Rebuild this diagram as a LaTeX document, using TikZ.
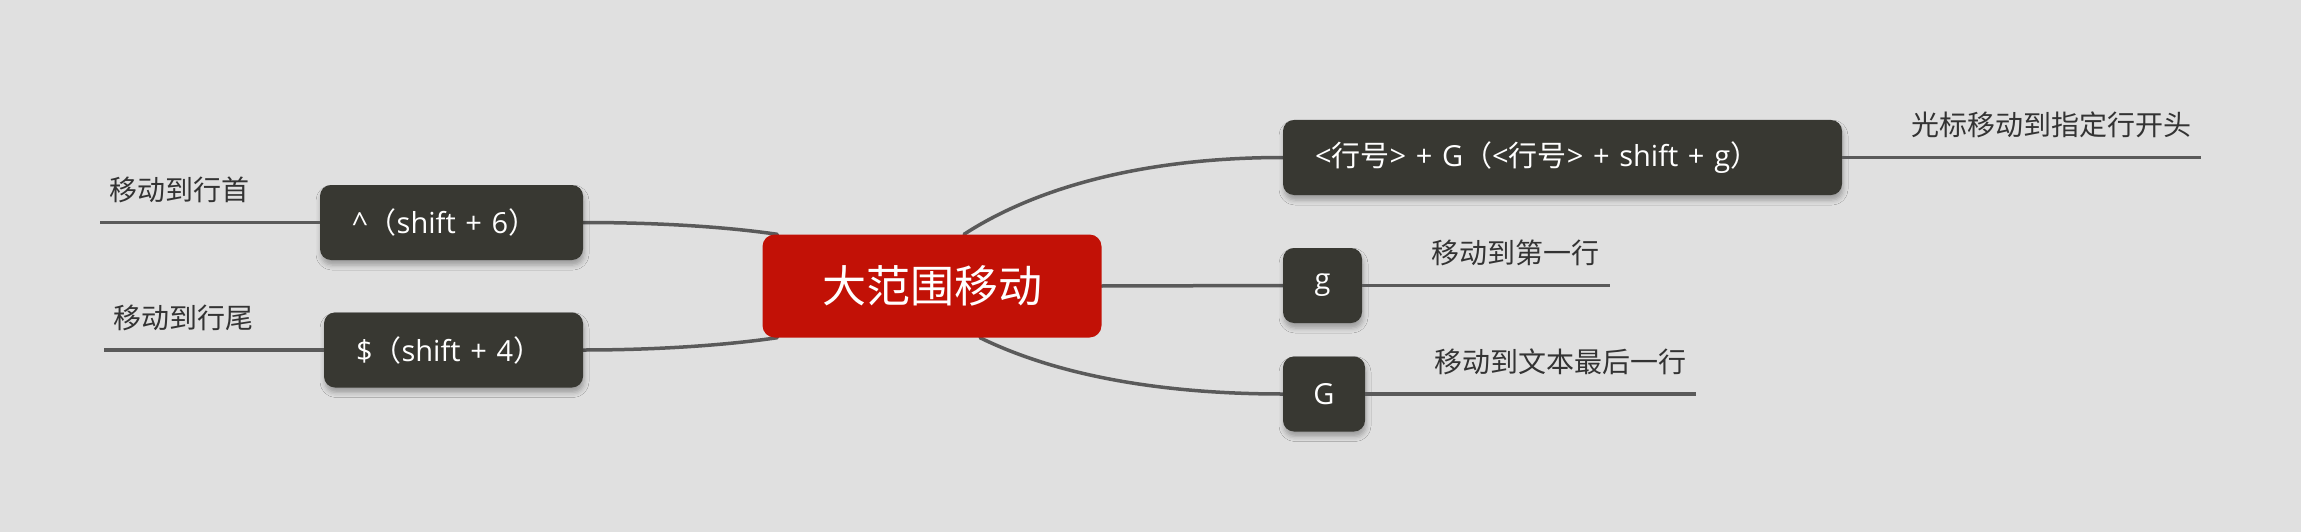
\documentclass[tikz,border=0pt]{standalone}
\usepackage{fontspec}
\setmainfont{Open Sans}
\newfontfamily\cjk{Noto Sans CJK SC}
\usetikzlibrary{shadows.blur,backgrounds,calc}
\definecolor{bg}{HTML}{E0E0E0}
\definecolor{dark}{HTML}{383832}
\definecolor{mainred}{HTML}{C21106}
\definecolor{linec}{HTML}{5A5A5A}
\definecolor{labc}{HTML}{333333}
\begin{document}
\begin{tikzpicture}[x=1pt,y=-1pt,
  centerbox/.style={rectangle, rounded corners=12pt, fill=mainred, text=white,
    minimum width=339pt, minimum height=103pt, inner sep=0pt,
    font=\cjk\fontsize{44}{50}\selectfont},
  keybox/.style={rectangle, rounded corners=11pt, fill=dark, text=white,
    minimum height=75pt, inner sep=0pt,
    font=\fontsize{29}{32}\selectfont,
    blur shadow={shadow xshift=1pt, shadow yshift=-5pt, shadow blur radius=5pt, shadow opacity=30}},
  widekey/.style={keybox, inner xsep=32pt, align=left, text width=#1},
  desc/.style={text=labc, inner sep=0pt, font=\cjk\fontsize{28}{32}\selectfont},
  conn/.style={draw=linec, line width=3.5pt, line cap=round},
  uline/.style={draw=linec, line width=3.5pt}
]
\useasboundingbox (0,0) rectangle (2301,532);

\node[centerbox] (c) at (932,286) {大范围移动};

\node[widekey=495pt] (k1) at (1562.5,157.5) {<{\cjk 行号}> + G{\cjk （}<{\cjk 行号}> + shift + g{\cjk ）}};
\node[keybox, minimum width=79pt] (k2) at (1322.5,285.5) {g};
\node[keybox, minimum width=82pt] (k3) at (1324,394) {G};
\node[widekey=199pt] (k4) at (451.5,222.5) {\^{}{\cjk （}shift + 6{\cjk ）}};
\node[widekey=195pt] (k5) at (453.5,350) {\${\cjk （}shift + 4{\cjk ）}};

\coordinate (e1) at (2201,157.5);
\coordinate (e2) at (1610,285.5);
\coordinate (e3) at (1696,394);
\coordinate (e4) at (100,222.5);
\coordinate (e5) at (104,350);

\begin{scope}[on background layer]
  \fill[bg] (0,0) rectangle (2301,532);
  \draw[conn] ([xshift=32pt]c.north) .. controls (1040,185) and (1150,157.5) .. (k1.west);
  \draw[conn] (c.east) -- (k2.west);
  \draw[conn] ([xshift=48pt]c.south) .. controls (1050,372) and (1150,394) .. (k3.west);
  \draw[conn] ([xshift=15pt]c.north west) .. controls (720,226) and (650,222.5) .. (k4.east);
  \draw[conn] ([xshift=15pt]c.south west) .. controls (720,346) and (650,350) .. (k5.east);
\end{scope}

\draw[uline] (k1.east) -- (e1);
\draw[uline] (k2.east) -- (e2);
\draw[uline] (k3.east) -- (e3);
\draw[uline] (k4.west) -- (e4);
\draw[uline] (k5.west) -- (e5);

\node[desc, anchor=base west] (d1) at ([xshift=69pt,yshift=22pt]k1.east) {光标移动到指定行开头};
\node[desc, anchor=base west] (d2) at ([xshift=69pt,yshift=22pt]k2.east) {移动到第一行};
\node[desc, anchor=base west] (d3) at ([xshift=69pt,yshift=22pt]k3.east) {移动到文本最后一行};
\node[desc, anchor=base east] (d4) at ([xshift=-70pt,yshift=22pt]k4.west) {移动到行首};
\node[desc, anchor=base east] (d5) at ([xshift=-70pt,yshift=22pt]k5.west) {移动到行尾};
\end{tikzpicture}
\end{document}
